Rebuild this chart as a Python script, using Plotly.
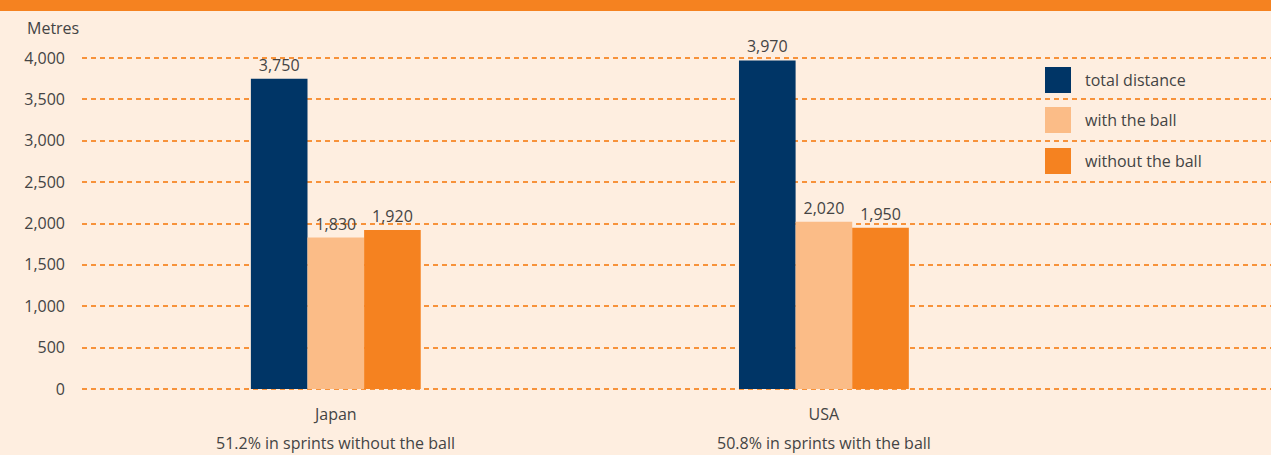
import plotly.graph_objects as go

categories = ["Japan", "USA"]
subtitles = ["51.2% in sprints without the ball", "50.8% in sprints with the ball"]
series_names = ["total distance", "with the ball", "without the ball"]
total_distance = [3750, 3970]
with_ball = [1830, 2020]
without_ball = [1920, 1950]
y_ticks = [0, 500, 1000, 1500, 2000, 2500, 3000, 3500, 4000]

colors = ["#003566", "#FBBC87", "#F58220"]
bg = "#FEEEE0"
txt = "#444444"
font_family = "Open Sans, Noto Sans, sans-serif"

W, H = 1271, 455
T, B, L, R = 56, 64, 82, 0
plot_h = H - T - B
plot_w = W - L - R

fig = go.Figure()
for name, vals, col in zip(series_names, [total_distance, with_ball, without_ball], colors):
    fig.add_trace(go.Bar(
        x=list(range(len(categories))), y=vals, name=name,
        marker=dict(color=col, line=dict(width=0)),
        text=[f"{v:,}" for v in vals],
        textposition="outside",
        textfont=dict(size=16, color=txt, family=font_family),
        cliponaxis=False, showlegend=False,
    ))

# subtitles under categories
for i, s in enumerate(subtitles):
    fig.add_annotation(x=i, y=0, xref="x", yref="paper", text=s, showarrow=False,
                       yshift=-(443 - (H - B)), yanchor="middle",
                       font=dict(size=16, color=txt, family=font_family))

# custom legend
leg_x0 = 1045
leg_centers = [80, 120, 161]
for name, col, cy in zip(series_names, colors, leg_centers):
    fig.add_shape(type="rect", xref="paper", yref="paper",
                  x0=(leg_x0 - L) / plot_w, x1=(leg_x0 + 26 - L) / plot_w,
                  y0=1 - (cy + 13 - T) / plot_h, y1=1 - (cy - 13 - T) / plot_h,
                  fillcolor=col, line=dict(width=0), layer="above")
    fig.add_annotation(xref="paper", yref="paper", x=(1083 - L) / plot_w,
                       y=1 - (cy - T) / plot_h, xanchor="left", yanchor="middle",
                       text=name, showarrow=False,
                       font=dict(size=16, color=txt, family=font_family))

# top orange band
fig.add_shape(type="rect", xref="paper", yref="paper", x0=-0.1, x1=1.01,
              y0=1 + (T - 11) / plot_h, y1=1 + (T + 2) / plot_h,
              fillcolor="#F58220", line=dict(width=0), layer="above")

# Metres label
fig.add_annotation(xref="paper", yref="paper", x=(25 - L) / plot_w, xanchor="left",
                   y=1 + (T - 28) / plot_h, yanchor="middle", text="Metres", showarrow=False,
                   font=dict(size=16, color=txt, family=font_family))

fig.update_layout(
    width=W, height=H, margin=dict(l=L, r=R, t=T, b=B),
    paper_bgcolor=bg, plot_bgcolor=bg,
    barmode="group", bargap=0.652, bargroupgap=0,
    font=dict(family=font_family, size=16, color=txt),
    xaxis=dict(range=[-0.52, 1.916], tickmode="array", tickvals=list(range(len(categories))),
               ticktext=categories, showgrid=False, zeroline=False, showline=False,
               ticks="", tickfont=dict(size=16, color=txt), ticklabelstandoff=12),
    yaxis=dict(range=[-24, 4024], tickmode="array", tickvals=y_ticks,
               ticktext=[f"{v:,}" for v in y_ticks], showgrid=True,
               gridcolor="#F7923A", griddash="5px,4px", gridwidth=1.5,
               zeroline=False, showline=False, ticks="", ticklabelstandoff=16,
               tickfont=dict(size=16, color=txt)),
)

fig.write_html("out.html", config={"displayModeBar": False},
               post_script="document.body.style.margin='0';document.body.style.background='%s';" % bg)
